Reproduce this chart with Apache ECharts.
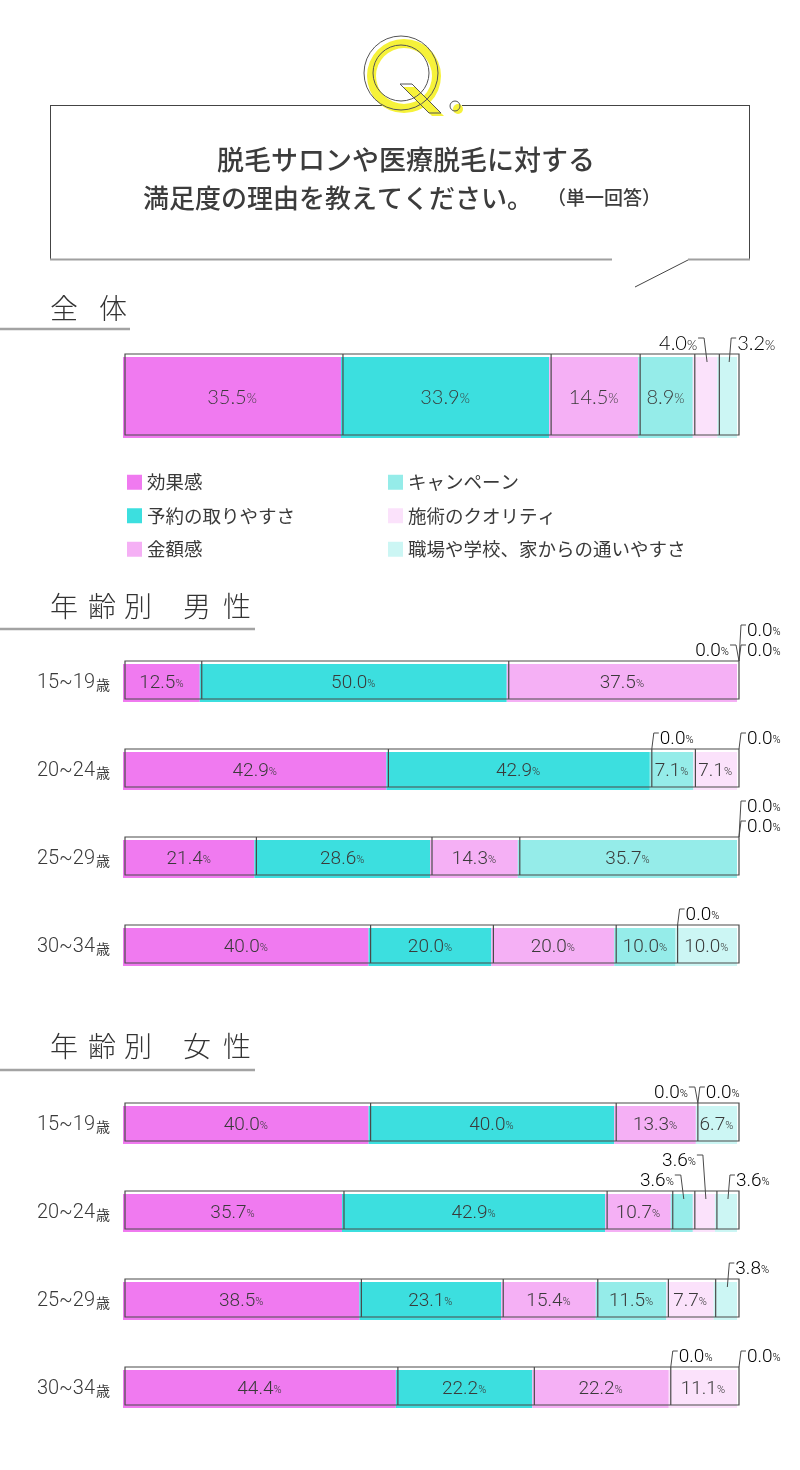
<!DOCTYPE html>
<html>
<head>
<meta charset="utf-8">
<script src="https://cdn.jsdelivr.net/npm/echarts@6/dist/echarts.min.js"></script>
<style>
  html, body { margin: 0; padding: 0; background: #fff; }
  #chart { width: 800px; height: 1470px; }
</style>
</head>
<body>
<div id="chart"></div>
<script>
// 回答項目
var categories = ['効果感', '予約の取りやすさ', '金額感', 'キャンペーン', '施術のクオリティ', '職場や学校、家からの通いやすさ'];
var colors = ['#f07af0', '#3cdfdf', '#f5b0f5', '#95ece9', '#fbe2fb', '#ccf6f4'];

// 全体
var totalRow = [35.5, 33.9, 14.5, 8.9, 4.0, 3.2];

// 年齢別
var ageLabels = ['15~19', '20~24', '25~29', '30~34'];
var maleRows = [
    [12.5, 50.0, 37.5, 0.0, 0.0, 0.0],
    [42.9, 42.9, 0.0, 7.1, 7.1, 0.0],
    [21.4, 28.6, 14.3, 35.7, 0.0, 0.0],
    [40.0, 20.0, 20.0, 10.0, 0.0, 10.0]
];
var femaleRows = [
    [40.0, 40.0, 13.3, 0.0, 0.0, 6.7],
    [35.7, 42.9, 10.7, 3.6, 3.6, 3.6],
    [38.5, 23.1, 15.4, 11.5, 7.7, 3.8],
    [44.4, 22.2, 22.2, 0.0, 11.1, 0.0]
];

/* 小さい値の吹き出し: 項目番号 -> [左右, 段] */
var calloutLayout = [
    {4: ['L', 0], 5: ['R', 0]},
    {3: ['L', 0], 4: ['R', 1], 5: ['R', 0]},
    {2: ['R', 0], 5: ['R', 0]},
    {4: ['R', 1], 5: ['R', 0]},
    {4: ['R', 0]},
    {3: ['L', 0], 4: ['R', 0]},
    {3: ['L', 0], 4: ['L', 1], 5: ['R', 0]},
    {5: ['R', 0]},
    {3: ['R', 0], 5: ['R', 0]}
];

var TEXT = '#3a3a3a';
var LINE = '#4a4a4a';
var JP = "'Noto Sans CJK JP', sans-serif";
var NUM_BIG = "'Lato', 'Open Sans', sans-serif";
var NUM_ROW = "'Roboto', 'Open Sans', sans-serif";
var DX = 2, DY = -3;   // 枠線は塗りから少しずらす

var rows = [totalRow].concat(maleRows, femaleRows);
var rowLabels = [''].concat(ageLabels, ageLabels);
var gridTops = [357, 664, 752, 840, 928, 1106, 1194, 1282, 1370];

function numRich(big) {
    return {
        n: {fontSize: big ? 20 : 19, fontWeight: 300, fontFamily: big ? NUM_BIG : NUM_ROW, color: TEXT},
        p: {fontSize: big ? 13 : 11, fontWeight: 300, fontFamily: big ? NUM_BIG : NUM_ROW, color: TEXT, padding: [3, 0, 0, 0]}
    };
}

function renderOverlay(api, layout, big) {
    var vals = [];
    for (var d = 1; d <= 6; d++) vals.push(api.value(d));
    var total = vals.reduce(function (a, b) { return a + b; }, 0);
    var cy = api.coord([0, 0])[1];
    var h = api.size([0, 1])[1];
    var top = cy - h / 2 + DY;
    var xAt = function (v) { return api.coord([v, 0])[0] + DX; };
    var children = [];
    children.push({
        type: 'rect',
        shape: {x: xAt(0), y: top, width: xAt(total) - xAt(0), height: h},
        style: {fill: 'none', stroke: LINE, lineWidth: 1.2}
    });
    var acc = 0;
    vals.forEach(function (v, k) {
        var start = acc;
        acc += v;
        if (k < 5 && v > 0 && acc < total - 0.05) {
            children.push({
                type: 'line',
                shape: {x1: xAt(acc), y1: top, x2: xAt(acc), y2: top + h},
                style: {stroke: LINE, lineWidth: 1.2}
            });
        }
        var lay = layout[k];
        if (!lay) return;
        var tx = xAt(start + v / 2);
        var ly = top - 10 - 20 * lay[1];
        var hy = ly - 6;
        var ty = top + (v > 0 ? 8 : 0);
        var pts, lx, align;
        if (lay[0] === 'L') {
            pts = [[tx - 9, hy], [tx - 3, hy], [tx, ty]];
            lx = tx - 10; align = 'right';
        } else {
            pts = [[tx, ty], [tx + 2, hy], [tx + 7, hy]];
            lx = tx + 8; align = 'left';
        }
        children.push({type: 'polyline', shape: {points: pts}, style: {fill: 'none', stroke: LINE, lineWidth: 1}});
        children.push({
            type: 'text',
            style: {
                text: '{n|' + v.toFixed(1) + '}{p|%}', rich: numRich(big),
                x: lx, y: ly, align: align, verticalAlign: 'middle',
                textAlign: align, textVerticalAlign: 'middle'
            }
        });
    });
    return {type: 'group', children: children};
}

var grids = [], xAxes = [], yAxes = [], series = [];
rows.forEach(function (row, i) {
    var big = i === 0;
    grids.push({left: 123, width: 614, top: gridTops[i], height: big ? 81 : 38});
    xAxes.push({gridIndex: i, type: 'value', min: 0, max: 'dataMax', show: false});
    yAxes.push({
        gridIndex: i, type: 'category', data: [rowLabels[i]],
        axisLine: {show: false}, axisTick: {show: false},
        axisLabel: {
            show: !big, margin: 13,
            formatter: function (v) { return '{a|' + v + '}{b|歳}'; },
            rich: {
                a: {fontSize: 20, fontWeight: 300, fontFamily: NUM_ROW, color: TEXT},
                b: {fontSize: 14, fontFamily: JP, color: TEXT, padding: [3, 0, 0, 1]}
            }
        }
    });
    row.forEach(function (v, k) {
        series.push({
            type: 'bar', name: categories[k], stack: 'row' + i,
            xAxisIndex: i, yAxisIndex: i,
            barWidth: '100%', data: [v],
            itemStyle: {color: colors[k]},
            label: {
                show: true, position: 'inside',
                formatter: function (p) { return p.value >= 5 ? '{n|' + p.value.toFixed(1) + '}{p|%}' : ''; },
                rich: numRich(big)
            },
            emphasis: {disabled: true},
            animation: false
        });
    });
    series.push({
        type: 'custom', xAxisIndex: i, yAxisIndex: i, z: 5, silent: true, clip: false,
        data: [[0].concat(row)],
        encode: {x: 1, y: 0},
        renderItem: function (params, api) { return renderOverlay(api, calloutLayout[i], big); },
        animation: false
    });
});

function heading(chars, xs, y) {
    return chars.map(function (c, j) {
        return {type: 'text', x: xs[j], y: y, style: {
            text: c, font: '300 28px ' + JP, fill: '#333',
            align: 'left', verticalAlign: 'middle', textAlign: 'left', textVerticalAlign: 'middle'
        }};
    });
}
function hline(x1, y, x2, color, w) {
    return {type: 'line', shape: {x1: x1, y1: y, x2: x2, y2: y}, style: {stroke: color, lineWidth: w}};
}

var yellow = '#f6f23a';
var graphics = [
    // 質問ボックス
    hline(50, 105.5, 384, '#444', 1),
    hline(462, 105.5, 750, '#444', 1),
    {type: 'line', shape: {x1: 50.5, y1: 105, x2: 50.5, y2: 260}, style: {stroke: '#444', lineWidth: 1}},
    {type: 'line', shape: {x1: 749.5, y1: 105, x2: 749.5, y2: 260}, style: {stroke: '#444', lineWidth: 1}},
    hline(50, 259.5, 612, '#a0a0a0', 2),
    hline(688, 259.5, 750, '#a0a0a0', 2),
    {type: 'line', shape: {x1: 688, y1: 260, x2: 635, y2: 287}, style: {stroke: '#444', lineWidth: 1}},
    // Q.
    {type: 'ring', shape: {cx: 404, cy: 76, r: 37, r0: 28}, style: {fill: yellow}},
    {type: 'polygon', shape: {points: [[403, 87], [415, 87], [444, 116], [432, 116]]}, style: {fill: yellow}},
    {type: 'circle', shape: {cx: 458, cy: 109, r: 5}, style: {fill: yellow}},
    {type: 'circle', shape: {cx: 401, cy: 73, r: 37}, style: {fill: 'none', stroke: '#555', lineWidth: 1}},
    {type: 'circle', shape: {cx: 401, cy: 73, r: 28}, style: {fill: 'none', stroke: '#555', lineWidth: 1}},
    {type: 'polygon', shape: {points: [[400, 84], [412, 84], [441, 113], [429, 113]]}, style: {fill: 'none', stroke: '#555', lineWidth: 1}},
    {type: 'circle', shape: {cx: 455, cy: 106, r: 5}, style: {fill: 'none', stroke: '#555', lineWidth: 1}},
    // 設問文
    {type: 'text', x: 406, y: 160, style: {
        text: '脱毛サロンや医療脱毛に対する', font: '500 27px ' + JP, fill: '#3c3c3c',
        align: 'center', verticalAlign: 'middle', textAlign: 'center', textVerticalAlign: 'middle'
    }},
    {type: 'text', x: 338, y: 198, style: {
        text: '満足度の理由を教えてください。', font: '500 26px ' + JP, fill: '#3c3c3c',
        align: 'center', verticalAlign: 'middle', textAlign: 'center', textVerticalAlign: 'middle'
    }},
    {type: 'text', x: 604, y: 198, style: {
        text: '（単一回答）', font: '500 19px ' + JP, fill: '#3c3c3c',
        align: 'center', verticalAlign: 'middle', textAlign: 'center', textVerticalAlign: 'middle'
    }},
    // 見出し
    hline(0, 329, 130, '#a3a3a3', 2.5),
    hline(0, 629, 255, '#a3a3a3', 2.5),
    hline(0, 1070, 255, '#a3a3a3', 2.5)
].concat(
    heading(['全', '体'], [50, 99], 308),
    heading(['年', '齢', '別', '男', '性'], [50, 88, 124, 183, 223], 606),
    heading(['年', '齢', '別', '女', '性'], [50, 88, 124, 183, 223], 1046)
);

var legendBase = {
    orient: 'vertical', itemWidth: 15, itemHeight: 15, itemGap: 15, icon: 'rect',
    selectedMode: false, textStyle: {fontSize: 18.5, color: TEXT, fontFamily: JP}
};

var myChart = echarts.init(document.getElementById('chart'));
myChart.setOption({
    backgroundColor: '#fff',
    animation: false,
    legend: [
        Object.assign({data: categories.slice(0, 3), left: 122, top: 468}, legendBase),
        Object.assign({data: categories.slice(3), left: 383, top: 468}, legendBase)
    ],
    grid: grids,
    xAxis: xAxes,
    yAxis: yAxes,
    series: series,
    graphic: graphics
});
</script>
</body>
</html>
